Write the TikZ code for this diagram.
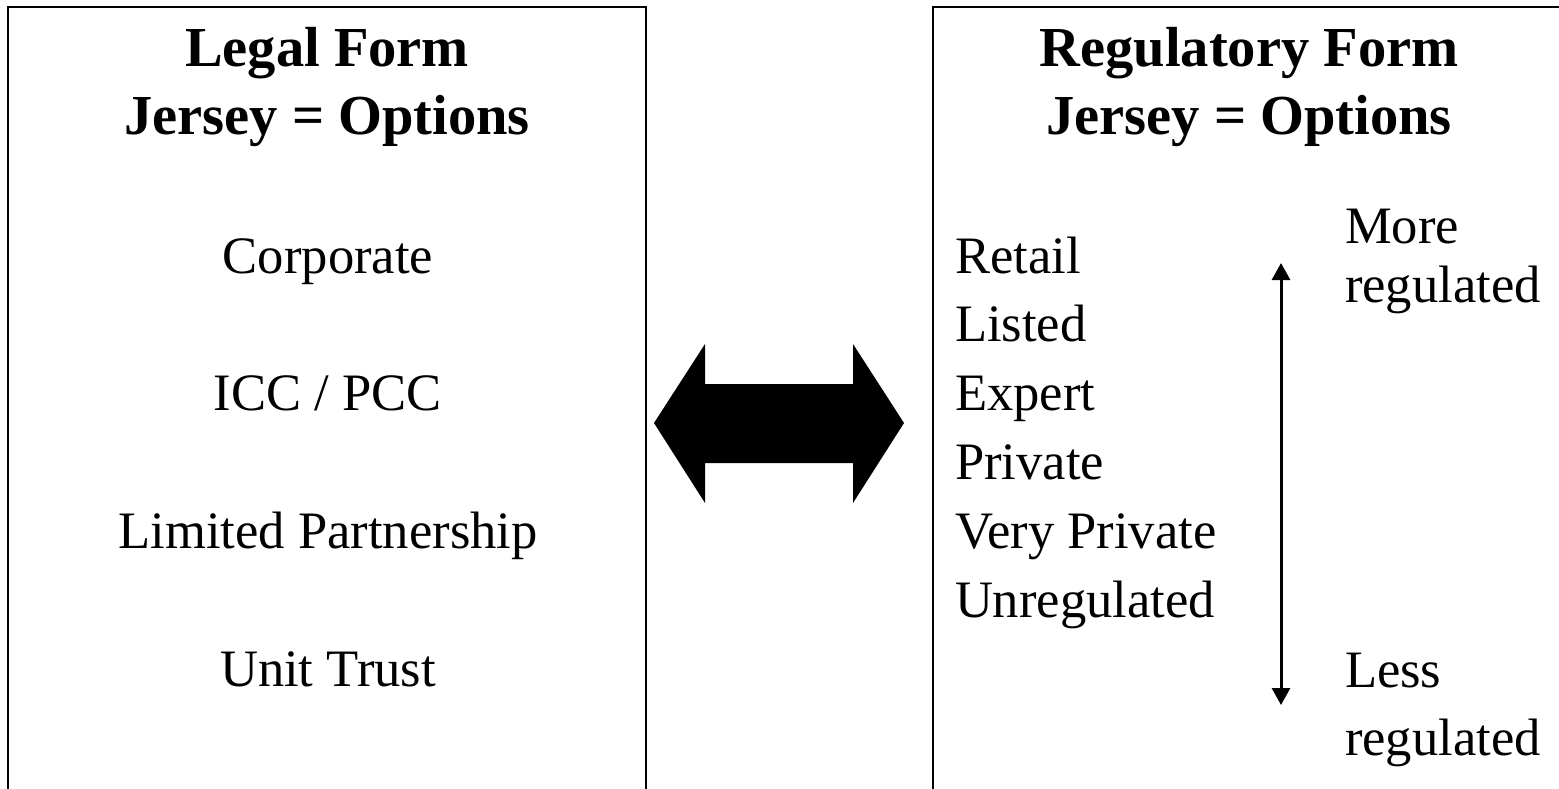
\documentclass[tikz,border=0pt]{standalone}
\usepackage{fontspec}
\setmainfont{Liberation Serif}
\usetikzlibrary{arrows.meta}
\tikzset{
  frame/.style={draw=black, line width=1.6pt},
  txt/.style={inner sep=0pt, outer sep=0pt, font=\fontsize{52.6}{63}\selectfont},
  head/.style={txt, anchor=base, font=\fontsize{56.5}{66}\selectfont\bfseries},
  ctr/.style={txt, anchor=base},
  lft/.style={txt, anchor=base west},
  scale arrow/.style={line width=3pt, {Triangle[width=18pt,length=17pt]}-{Triangle[width=18pt,length=17pt]}},
  bigarrow/.style={fill=black}
}
\begin{document}
\begin{tikzpicture}[x=1pt,y=-1pt]
\useasboundingbox (0,0) rectangle (1559,789);
% frames (bottom and right edges run off the page)
\draw[frame] (8,7) rectangle (646,820);
\draw[frame] (933,7) rectangle (1590,820);

% left box
\node[head] (lh1) at (327,67) {Legal Form};
\node[head] (lh2) at (327,135) {Jersey = Options};
\node[ctr] (l1) at (328,273) {Corporate};
\node[ctr] (l2) at (328,410) {ICC / PCC};
\node[ctr] (l3) at (328,548) {Limited Partnership};
\node[ctr] (l4) at (328,686) {Unit Trust};

% right box
\node[head] (rh1) at (1249,67) {Regulatory Form};
\node[head] (rh2) at (1249,135) {Jersey = Options};
\node[lft] (r1) at (955,273) {Retail};
\node[lft] (r2) at (955,341) {Listed};
\node[lft] (r3) at (955,410) {Expert};
\node[lft] (r4) at (955,479) {Private};
\node[lft] (r5) at (955,548) {Very Private};
\node[lft] (r6) at (955,617) {Unregulated};

\node[lft] (m1) at (1345,243) {More};
\node[lft] (m2) at (1345,302) {regulated};
\node[lft] (s1) at (1345,687) {Less};
\node[lft] (s2) at (1345,755) {regulated};

\coordinate (top) at (1281,263);
\coordinate (bot) at (1281,705);
\draw[scale arrow] (bot) -- (top);

% big double arrow between the boxes
\coordinate (ba) at (779,423);
\fill[bigarrow] (654,423) -- (705,344) -- (705,384) -- (853,384) -- (853,344)
  -- (904,423) -- (853,503) -- (853,463) -- (705,463) -- (705,503) -- cycle;
\end{tikzpicture}
\end{document}
